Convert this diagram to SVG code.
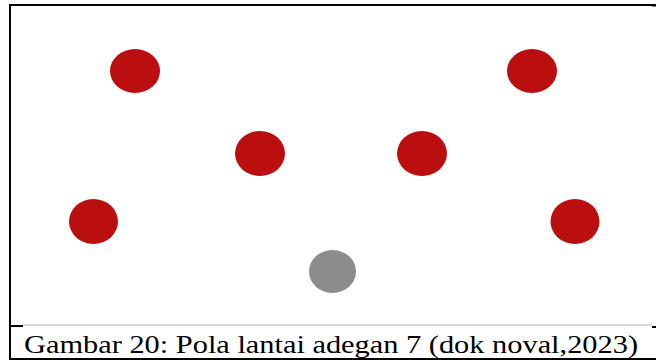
<svg xmlns="http://www.w3.org/2000/svg" width="656" height="360" viewBox="0 0 656 360">
  <style>
    .dancer { fill: #bb0e0e; }
    .lead { fill: #8c8c8c; }
    .rule { stroke: #000; stroke-width: 2; fill: none; }
    .caption { font-family: "Liberation Serif", "DejaVu Serif", serif; font-size: 25px; fill: #000; }
  </style>
  <rect width="656" height="360" fill="#fff"/>

  <!-- frame -->
  <g id="frame">
    <line class="rule" x1="10" y1="4" x2="10" y2="360"/>
    <line class="rule" x1="9" y1="5" x2="652" y2="5"/>
    <rect x="652" y="4" width="4" height="2.5" fill="#000"/>
    <line x1="23" y1="325" x2="652" y2="325" stroke="#d9d9d9" stroke-width="2"/>
    <line class="rule" x1="9" y1="326" x2="23" y2="326"/>
    <rect x="652" y="326" width="4" height="2" fill="#000"/>
    <line class="rule" x1="9" y1="359" x2="656" y2="359"/>
  </g>

  <!-- floor positions -->
  <g id="dancer-1"><ellipse class="dancer" cx="135" cy="71" rx="25" ry="22"/></g>
  <g id="dancer-2"><ellipse class="dancer" cx="532" cy="71" rx="25" ry="22"/></g>
  <g id="dancer-3"><ellipse class="dancer" cx="260" cy="153.5" rx="25" ry="22.5"/></g>
  <g id="dancer-4"><ellipse class="dancer" cx="422" cy="153.5" rx="25" ry="22.5"/></g>
  <g id="dancer-5"><ellipse class="dancer" cx="93.5" cy="221.5" rx="24.5" ry="22.5"/></g>
  <g id="dancer-6"><ellipse class="dancer" cx="575" cy="221.5" rx="24.5" ry="22.5"/></g>
  <g id="dancer-7"><ellipse class="lead" cx="332.5" cy="271.5" rx="23.5" ry="21.5"/></g>

  <g id="connectors"></g>

  <text class="caption" x="24" y="353" textLength="614" lengthAdjust="spacingAndGlyphs">Gambar 20: Pola lantai adegan 7 (dok noval,2023)</text>
</svg>
